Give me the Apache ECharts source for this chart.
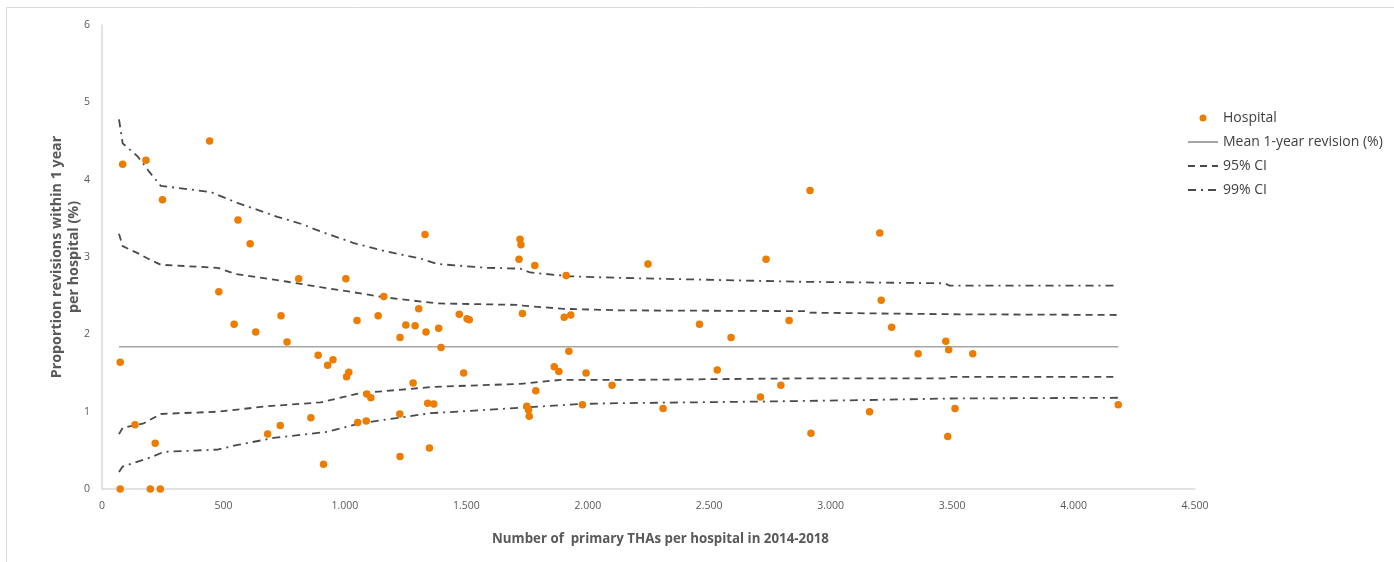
<!DOCTYPE html>
<html>
<head>
<meta charset="utf-8">
<script src="https://cdn.jsdelivr.net/npm/echarts@6/dist/echarts.min.js"></script>
<style>html,body{margin:0;padding:0;background:#fff}#c{width:1394px;height:562px}</style>
</head>
<body>
<div id="c"></div>
<script>
// Hospitals: number of primary THAs (x) and proportion revised within 1 year (%) (y)
var hospitalX = [85,181,443,249,560,610,75,75,136,219,199,240,481,544,633,737,762,682,734,810,860,890,929,951,912,1004,1007,1016,1050,1053,1160,1330,1721,1725,1717,1782,1911,1137,1304,1251,1289,1227,1334,1386,1396,1471,1503,1512,1731,1903,1930,1922,1090,1107,1281,1489,1862,1881,1993,2100,1786,1341,1366,1226,1749,1756,1759,1978,1088,1227,1348,2248,2915,2734,3202,3208,2460,2590,2829,3251,3474,3486,3360,3585,2533,2795,2711,2310,3160,3512,2919,3482,4184];
var hospitalY = [4.20,4.25,4.50,3.74,3.48,3.17,1.64,0,0.83,0.59,0,0,2.55,2.13,2.03,2.24,1.90,0.71,0.82,2.72,0.92,1.73,1.60,1.67,0.32,2.72,1.45,1.51,2.18,0.86,2.49,3.29,3.23,3.16,2.97,2.89,2.76,2.24,2.33,2.12,2.11,1.96,2.03,2.08,1.83,2.26,2.20,2.19,2.27,2.22,2.25,1.78,1.23,1.18,1.37,1.50,1.58,1.52,1.50,1.34,1.27,1.11,1.10,0.97,1.07,1.02,0.94,1.09,0.88,0.42,0.53,2.91,3.86,2.97,3.31,2.44,2.13,1.96,2.18,2.09,1.91,1.80,1.75,1.75,1.54,1.34,1.19,1.04,1.00,1.04,0.72,0.68,1.09];

var meanValue = 1.84;
var meanX = [70, 4184];

var upper99X = [70,85,147,195,242,448,557,722,818,900,1037,1174,1311,1379,1585,1722,1763,1928,2133,2873,3470,3489,4184];
var upper99Y = [4.78,4.47,4.30,4.10,3.92,3.84,3.70,3.52,3.43,3.33,3.18,3.07,2.98,2.91,2.86,2.85,2.80,2.75,2.73,2.68,2.66,2.63,2.63];
var upper95X = [70,85,147,201,242,476,551,764,900,1064,1160,1380,1722,1735,1900,2133,2900,2914,3489,4184];
var upper95Y = [3.30,3.14,3.05,2.96,2.90,2.86,2.78,2.68,2.61,2.53,2.48,2.40,2.38,2.37,2.33,2.31,2.30,2.28,2.26,2.25];
var lower95X = [70,85,172,242,476,682,900,995,1064,1364,1722,1886,2133,2873,3470,3489,4184];
var lower95Y = [0.71,0.79,0.85,0.97,1.00,1.07,1.12,1.19,1.24,1.32,1.36,1.41,1.41,1.43,1.43,1.45,1.45];
var lower99X = [70,85,201,255,476,558,707,929,1064,1352,1722,1968,2133,2696,3148,3477,4184];
var lower99Y = [0.22,0.29,0.41,0.48,0.51,0.57,0.66,0.74,0.85,0.98,1.05,1.10,1.11,1.13,1.15,1.17,1.18];

var xTicks = {min: 0, max: 4500, interval: 500};
var yTicks = {min: 0, max: 6, interval: 1};
var seriesNames = ['Hospital', 'Mean 1-year revision (%)', '95% CI', '99% CI'];

function zip(a, b) { return a.map(function (v, i) { return [v, b[i]]; }); }

var chart = echarts.init(document.getElementById('c'));
var lineDark = '#4a4a4a';
var orange = '#ed7d00';
var font = '"Open Sans", "Noto Sans", sans-serif';
chart.setOption({
  animation: false,
  backgroundColor: '#ffffff',
  textStyle: {fontFamily: font},
  graphic: [
    {type: 'polyline', shape: {points: [[6.5, 562], [6.5, 7.5], [1394, 7.5]]}, style: {stroke: '#d9d9d9', lineWidth: 1, fill: null}, silent: true}
  ],
  grid: {left: 102, right: 199, top: 25, bottom: 73},
  legend: {
    orient: 'vertical',
    left: 1182,
    top: 106,
    itemWidth: 30,
    itemHeight: 7,
    itemGap: 10,
    textStyle: {fontSize: 14, color: '#404040', fontFamily: font},
    data: [
      {name: seriesNames[0], icon: 'circle'},
      {name: seriesNames[1], itemStyle: {opacity: 0}},
      {name: seriesNames[2], itemStyle: {opacity: 0}},
      {name: seriesNames[3], itemStyle: {opacity: 0}}
    ]
  },
  xAxis: {
    type: 'value',
    min: xTicks.min, max: xTicks.max, interval: xTicks.interval,
    name: 'Number of  primary THAs per hospital in 2014-2018',
    nameLocation: 'middle',
    nameGap: 44,
    nameTextStyle: {fontSize: 13.3, fontWeight: 'bold', color: '#595959', fontFamily: font, padding: [0, 0, 0, 24]},
    axisLine: {show: true, lineStyle: {color: '#d9d9d9', width: 1.5}},
    axisTick: {show: false},
    splitLine: {show: false},
    axisLabel: {fontSize: 10.5, color: '#595959', margin: 12, formatter: function (v) {
      return String(v).replace(/\B(?=(\d{3})+(?!\d))/g, '.');
    }}
  },
  yAxis: {
    type: 'value',
    min: yTicks.min, max: yTicks.max, interval: yTicks.interval,
    name: 'Proportion revisions within 1 year\nper hospital (%)',
    nameLocation: 'middle',
    nameGap: 20,
    nameMoveOverlap: false,
    nameTextStyle: {fontSize: 14.3, fontWeight: 'bold', color: '#595959', fontFamily: font, lineHeight: 16.5},
    axisLine: {show: true, lineStyle: {color: '#d9d9d9', width: 1.5}},
    axisTick: {show: false},
    splitLine: {show: false},
    axisLabel: {fontSize: 10.5, color: '#595959', margin: 12}
  },
  series: [
    {
      name: seriesNames[0], type: 'scatter', data: zip(hospitalX, hospitalY),
      symbolSize: 7.5, itemStyle: {color: orange, opacity: 1}, z: 5
    },
    {
      name: seriesNames[1], type: 'line', data: meanX.map(function (x) { return [x, meanValue]; }),
      symbol: 'none', lineStyle: {color: '#a6a6a6', width: 1.5, type: 'solid'}, itemStyle: {color: '#a6a6a6'}
    },
    {
      name: seriesNames[2], type: 'line', data: zip(upper95X, upper95Y),
      symbol: 'none', lineStyle: {color: lineDark, width: 1.8, type: [7, 5]}, itemStyle: {color: lineDark}
    },
    {
      name: seriesNames[2], type: 'line', data: zip(lower95X, lower95Y),
      symbol: 'none', lineStyle: {color: lineDark, width: 1.8, type: [7, 5]}, itemStyle: {color: lineDark}
    },
    {
      name: seriesNames[3], type: 'line', data: zip(upper99X, upper99Y),
      symbol: 'none', lineStyle: {color: lineDark, width: 1.8, type: [8, 5, 2, 5]}, itemStyle: {color: lineDark}
    },
    {
      name: seriesNames[3], type: 'line', data: zip(lower99X, lower99Y),
      symbol: 'none', lineStyle: {color: lineDark, width: 1.8, type: [8, 5, 2, 5]}, itemStyle: {color: lineDark}
    }
  ]
});
</script>
</body>
</html>
